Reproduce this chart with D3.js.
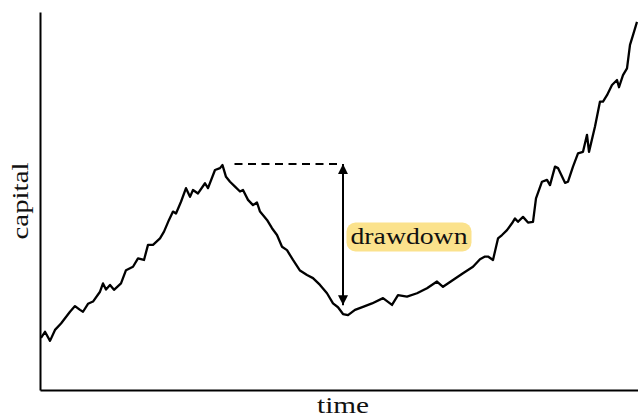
<!DOCTYPE html>
<html>
<head>
<meta charset="utf-8">
<script src="https://cdn.jsdelivr.net/npm/d3@7"></script>
<style>
	body { margin: 0; background: #fff; }
</style>
</head>
<body>
<svg id="chart" width="638" height="417"></svg>
<script>
// capital curve (time in days, capital in %)
var times = [1,5,10,15,21,30,35,40,43,48,
	53,60,63,66,70,74,81,86,93,98,
	104,108,113,120,124,129,133,136,141,146,
	150,153,158,165,168,175,180,182.5,186,190,
	195,200,203,208,213,217,220,227,232,237,
	242,247,253,260,267,273,280,287,293,298,
	303,308,315,323,332,343,352,358,367,377,
	387,397,403,413,423,433,440,445,448,453,
	458,462,467,472,475,478,483,488,493,496,
	502,507,510,515,518,525,528,533,538,543,
	547,549,555,560,563,567,572,577,579,583,
	587,590,593,597];
var capital = [13.8,15.4,13.0,15.9,17.6,20.7,22.2,21.2,20.7,22.8,
	23.4,26.0,28.2,26.6,27.8,26.5,28.2,31.7,32.6,34.8,
	34.4,38.4,38.4,40.1,41.9,45.0,47.2,46.7,49.8,53.4,
	51.1,52.9,52.0,54.7,53.4,58.2,58.7,59.5,56.4,55.1,
	53.8,52.5,52.9,50.3,48.9,49.6,47.2,45.0,42.8,41.0,
	37.9,37.0,34.4,31.6,30.4,29.6,27.8,25.6,22.9,21.9,
	20.1,19.8,21.2,22.0,22.9,24.3,22.5,25.1,24.7,25.6,
	26.9,28.7,27.3,29.1,30.9,32.6,34.6,35.3,35.3,34.4,
	40.1,41.0,42.3,44.1,45.4,44.5,45.8,44.3,44.5,50.7,
	55.1,55.6,54.2,59.1,58.7,54.8,55.1,59.1,62.6,63.0,
	67.5,63.0,69.7,76.3,76.3,78.0,80.7,82.0,80.1,83.3,
	85.1,91.3,93.9,97.4];

var axis_labels = ["time", "capital"];
var drawdown_label = "drawdown";
var drawdown_time = 303;     // where the arrow stands
var peak_index = 37;         // running max before the fall
var trough_index = 61;       // lowest point after it

var serif = "'Liberation Serif', 'Times New Roman', Times, 'DejaVu Serif', serif";

var svg = d3.select("#chart");

var x = d3.scaleLinear().domain([0, 598]).range([40, 638]);
var y = d3.scaleLinear().domain([0, 100]).range([390, 12]);

var points = times.map(function(t, i){
	return {t: t, c: capital[i]};
});

// axes: bare lines, no ticks
svg.append("g")
	.attr("transform", "translate(0,390)")
	.call(d3.axisBottom(x).tickValues([]).tickSizeOuter(0))
	.select(".domain").attr("stroke", "#000").attr("stroke-width", 2);

svg.append("g")
	.attr("transform", "translate(40,0)")
	.call(d3.axisLeft(y).tickValues([]).tickSizeOuter(0))
	.select(".domain").attr("stroke", "#000").attr("stroke-width", 2);

function add_text(sel){
	return sel.append("text")
		.attr("font-family", serif)
		.attr("font-size", 24)
		.attr("fill", "#111")
		.attr("lengthAdjust", "spacingAndGlyphs");
}

add_text(svg)
	.attr("x", 343)
	.attr("y", 413)
	.attr("text-anchor", "middle")
	.attr("textLength", 52)
	.text(axis_labels[0]);

add_text(svg)
	.attr("transform", "translate(28,201) rotate(-90)")
	.attr("text-anchor", "middle")
	.attr("textLength", 77)
	.text(axis_labels[1]);

// the capital curve
var line = d3.line()
	.x(function(d){ return x(d.t); })
	.y(function(d){ return y(d.c); });

svg.append("path")
	.datum(points)
	.attr("d", line)
	.attr("fill", "none")
	.attr("stroke", "#000")
	.attr("stroke-width", 2.3)
	.attr("stroke-linejoin", "round");

// arrow heads
var defs = svg.append("defs");
["start", "end"].forEach(function(k){
	defs.append("marker")
		.attr("id", "head_" + k)
		.attr("viewBox", "0 0 10 10")
		.attr("refX", 10)
		.attr("refY", 5)
		.attr("markerUnits", "userSpaceOnUse")
		.attr("markerWidth", 10)
		.attr("markerHeight", 11)
		.attr("orient", "auto-start-reverse")
		.append("path")
		.attr("d", "M0,0 L10,5 L0,10 Z")
		.attr("fill", "#000");
});

var peak = points[peak_index];
var trough = points[trough_index];
var ax = x(drawdown_time);

// dashed level from the peak to the arrow
svg.append("line")
	.attr("x1", x(peak.t) + 12)
	.attr("x2", ax - 2)
	.attr("y1", y(peak.c) - 1)
	.attr("y2", y(peak.c) - 1)
	.attr("stroke", "#000")
	.attr("stroke-width", 2)
	.attr("stroke-dasharray", "8,5.5");

svg.append("line")
	.attr("x1", ax)
	.attr("x2", ax)
	.attr("y1", y(peak.c) - 1)
	.attr("y2", y(trough.c) - 10)
	.attr("stroke", "#000")
	.attr("stroke-width", 2)
	.attr("marker-start", "url(#head_start)")
	.attr("marker-end", "url(#head_end)");

// label with highlight
var label_g = svg.append("g");
label_g.append("rect")
	.attr("x", ax + 3.5)
	.attr("y", 222.5)
	.attr("width", 125)
	.attr("height", 29)
	.attr("rx", 9)
	.attr("fill", "#fbe28c");

add_text(label_g)
	.attr("x", ax + 7.5)
	.attr("y", 243.5)
	.attr("textLength", 117)
	.text(drawdown_label);
</script>
</body>
</html>
